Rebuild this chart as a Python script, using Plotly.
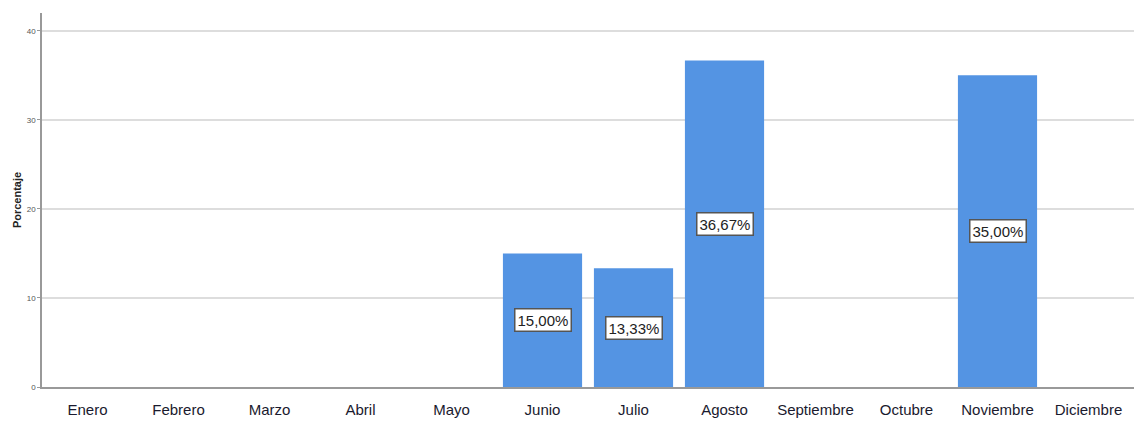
import plotly.graph_objects as go

meses = ["Enero", "Febrero", "Marzo", "Abril", "Mayo", "Junio", "Julio",
         "Agosto", "Septiembre", "Octubre", "Noviembre", "Diciembre"]
porcentaje = [0, 0, 0, 0, 0, 15.00, 13.33, 36.67, 0, 0, 35.00, 0]
y_ticks = [0, 10, 20, 30, 40]

fig = go.Figure()
fig.add_trace(go.Bar(
    x=meses, y=porcentaje,
    marker=dict(color="#5494e3", line=dict(width=0)),
    width=0.87,
    hoverinfo="x+y",
))

for m, v in zip(meses, porcentaje):
    if v > 0:
        fig.add_annotation(
            x=m, y=v / 2, text=f"{v:.2f}%".replace(".", ","),
            showarrow=False,
            font=dict(family="Liberation Sans Narrow, Liberation Sans, Arial", size=15, color="#222222"),
            bgcolor="white", bordercolor="#555555", borderwidth=1.5, borderpad=2,
        )

fig.update_layout(
    width=1134, height=425,
    margin=dict(l=42, r=0, t=13, b=38),
    plot_bgcolor="white", paper_bgcolor="white",
    showlegend=False,
    xaxis=dict(
        type="category", categoryorder="array", categoryarray=meses,
        showline=True, linecolor="#999999", linewidth=1.5,
        ticks="", showgrid=False, ticklabelstandoff=8,
        tickfont=dict(family="Liberation Sans", size=15, color="#1a1a2e"),
    ),
    yaxis=dict(
        range=[0, 42], tickvals=y_ticks,
        showline=True, linecolor="#999999", linewidth=1.5,
        showgrid=True, gridcolor="#dddddd", gridwidth=1.5,
        ticks="outside", ticklen=3, tickcolor="#999999",
        tickfont=dict(family="Liberation Sans", size=8, color="#555555"),
        zeroline=False,
        title=dict(text="<b>Porcentaje</b>", font=dict(family="Liberation Sans", size=11, color="#222222"), standoff=3),
    ),
)

fig.write_html("out.html", config={"displayModeBar": False},
               post_script="document.body.style.margin='0';document.body.style.overflow='hidden';")
